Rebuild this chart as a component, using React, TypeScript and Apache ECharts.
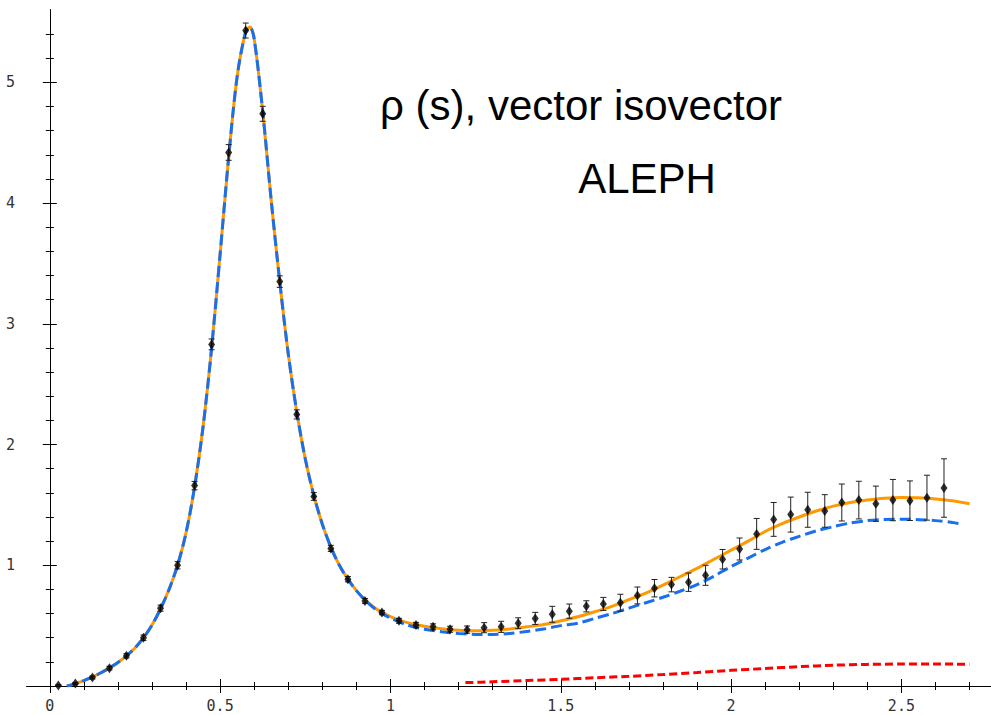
import React, { useEffect, useRef } from "react";
import * as echarts from "echarts";

// ---- data ----
const pointS = [
  0.025, 0.075, 0.125, 0.175, 0.225, 0.275, 0.325, 0.375, 0.425, 0.475,
  0.525, 0.575, 0.625, 0.675, 0.725, 0.775, 0.825, 0.875, 0.925, 0.975,
  1.025, 1.075, 1.125, 1.175, 1.225, 1.275, 1.325, 1.375, 1.425, 1.475,
  1.525, 1.575, 1.625, 1.675, 1.725, 1.775, 1.825, 1.875, 1.925, 1.975,
  2.025, 2.075, 2.125, 2.175, 2.225, 2.275, 2.325, 2.375, 2.425, 2.475,
  2.525, 2.575, 2.625,
];
const pointRho = [
  0.005, 0.02, 0.07, 0.148, 0.25, 0.4, 0.645, 1.0, 1.66, 2.83,
  4.42, 5.43, 4.74, 3.35, 2.25, 1.57, 1.14, 0.885, 0.705, 0.608,
  0.54, 0.505, 0.49, 0.47, 0.467, 0.483, 0.49, 0.52, 0.56, 0.594,
  0.62, 0.66, 0.68, 0.69, 0.75, 0.81, 0.84, 0.86, 0.917, 1.05,
  1.135, 1.26, 1.38, 1.42, 1.46, 1.45, 1.52, 1.54, 1.51, 1.54,
  1.535, 1.56, 1.64,
];
const pointErr = [
  0.005, 0.01, 0.012, 0.015, 0.018, 0.022, 0.025, 0.03, 0.035, 0.045,
  0.065, 0.062, 0.062, 0.048, 0.038, 0.032, 0.025, 0.022, 0.02, 0.018,
  0.02, 0.022, 0.025, 0.025, 0.03, 0.042, 0.046, 0.045, 0.05, 0.066,
  0.059, 0.046, 0.054, 0.07, 0.07, 0.072, 0.06, 0.076, 0.083, 0.081,
  0.091, 0.128, 0.14, 0.145, 0.145, 0.135, 0.153, 0.156, 0.146, 0.171,
  0.164, 0.186, 0.242,
];

const orangeS = [
  0.05, 0.075, 0.1, 0.125, 0.15, 0.175, 0.2, 0.225, 0.25, 0.275,
  0.3, 0.325, 0.35, 0.375, 0.4, 0.425, 0.45, 0.475, 0.5, 0.525,
  0.55, 0.575, 0.5875, 0.6, 0.625, 0.65, 0.675, 0.7, 0.725, 0.75,
  0.775, 0.8, 0.825, 0.85, 0.875, 0.9, 0.925, 0.95, 0.975, 1.0,
  1.05, 1.1, 1.15, 1.2, 1.25, 1.3, 1.35, 1.4, 1.45, 1.5,
  1.55, 1.6, 1.65, 1.7, 1.75, 1.8, 1.85, 1.9, 1.95, 2.0,
  2.05, 2.1, 2.15, 2.2, 2.25, 2.3, 2.35, 2.4, 2.45, 2.5,
  2.55, 2.6, 2.65, 2.7,
];
const orangeRho = [
  0.0, 0.02, 0.045, 0.075, 0.11, 0.15, 0.195, 0.25, 0.315, 0.4,
  0.505, 0.64, 0.8, 1.0, 1.27, 1.65, 2.15, 2.8, 3.58, 4.38,
  5.05, 5.42, 5.46, 5.36, 4.76, 4.02, 3.35, 2.75, 2.27, 1.88,
  1.58, 1.34, 1.15, 1.0, 0.885, 0.79, 0.715, 0.655, 0.61, 0.575,
  0.525, 0.495, 0.475, 0.462, 0.457, 0.462, 0.472, 0.49, 0.51, 0.54,
  0.574, 0.615, 0.66, 0.715, 0.77, 0.835, 0.905, 0.975, 1.05, 1.125,
  1.2, 1.28, 1.345, 1.4, 1.45, 1.49, 1.52, 1.54, 1.555, 1.562,
  1.56, 1.55, 1.535, 1.51,
];

const blueS = [
  0.05, 0.075, 0.1, 0.125, 0.15, 0.175, 0.2, 0.225, 0.25, 0.275,
  0.3, 0.325, 0.35, 0.375, 0.4, 0.425, 0.45, 0.475, 0.5, 0.525,
  0.55, 0.575, 0.5875, 0.6, 0.625, 0.65, 0.675, 0.7, 0.725, 0.75,
  0.775, 0.8, 0.825, 0.85, 0.875, 0.9, 0.925, 0.95, 0.975, 1.0,
  1.05, 1.1, 1.15, 1.2, 1.25, 1.3, 1.35, 1.4, 1.45, 1.5,
  1.55, 1.6, 1.65, 1.7, 1.75, 1.8, 1.85, 1.9, 1.95, 2.0,
  2.05, 2.1, 2.15, 2.2, 2.25, 2.3, 2.35, 2.4, 2.45, 2.5,
  2.55, 2.6, 2.65, 2.68,
];
const blueRho = [
  0.0, 0.02, 0.045, 0.075, 0.11, 0.15, 0.195, 0.25, 0.315, 0.4,
  0.505, 0.64, 0.8, 1.0, 1.27, 1.65, 2.15, 2.8, 3.58, 4.38,
  5.05, 5.42, 5.46, 5.36, 4.76, 4.02, 3.35, 2.75, 2.27, 1.88,
  1.58, 1.34, 1.15, 1.0, 0.885, 0.79, 0.712, 0.65, 0.6, 0.563,
  0.505, 0.47, 0.45, 0.435, 0.427, 0.427, 0.435, 0.452, 0.472, 0.5,
  0.52, 0.56, 0.6, 0.645, 0.69, 0.735, 0.785, 0.84, 0.91, 0.99,
  1.06, 1.13, 1.19, 1.24, 1.285, 1.32, 1.35, 1.37, 1.38, 1.382,
  1.378, 1.37, 1.355, 1.34,
];

const redS = [1.22, 1.3, 1.4, 1.5, 1.6, 1.7, 1.8, 1.9, 2.0, 2.1, 2.2, 2.3, 2.4, 2.5, 2.6, 2.7];
const redRho = [0.028, 0.035, 0.045, 0.055, 0.068, 0.08, 0.095, 0.112, 0.13, 0.145, 0.16, 0.172, 0.179, 0.182, 0.182, 0.18];

const xMajorTicks = [0, 0.5, 1, 1.5, 2, 2.5];
const xMinorTicks = [
  0.1, 0.2, 0.3, 0.4, 0.6, 0.7, 0.8, 0.9, 1.1, 1.2, 1.3, 1.4, 1.6, 1.7, 1.8, 1.9,
  2.1, 2.2, 2.3, 2.4, 2.6, 2.7,
];
const yMajorTicks = [1, 2, 3, 4, 5];
const yMinorTicks = [
  0.2, 0.4, 0.6, 0.8, 1.2, 1.4, 1.6, 1.8, 2.2, 2.4, 2.6, 2.8, 3.2, 3.4, 3.6, 3.8,
  4.2, 4.4, 4.6, 4.8, 5.2, 5.4,
];

const titleLine1 = "ρ (s), vector isovector";
const titleLine2 = "ALEPH";

const X_MIN = -0.067;
const X_MAX = 2.763;
const Y_MIN = 0;
const Y_MAX = 5.6;

export default function App() {
  const ref = useRef<HTMLDivElement>(null);

  useEffect(() => {
    if (!ref.current) return;
    const chart = echarts.init(ref.current, null, { renderer: "svg" });

    const axisLine = { show: true, lineStyle: { color: "#000", width: 1 } };
    const mkX = (position: string, major: boolean, labels: boolean) => ({
      type: "value",
      position,
      min: X_MIN,
      max: X_MAX,
      axisLine,
      splitLine: { show: false },
      axisTick: {
        show: true,
        inside: true,
        length: major ? 7 : 4,
        lineStyle: { color: "#000", width: 1 },
        customValues: major ? xMajorTicks : xMinorTicks,
      },
      axisLabel: labels
        ? {
            show: true,
            customValues: xMajorTicks,
            fontFamily: "DejaVu Sans Mono",
            fontSize: 15,
            color: "#333",
            margin: 12,
          }
        : { show: false },
    });
    const mkY = (position: string, major: boolean, labels: boolean) => ({
      type: "value",
      position,
      min: Y_MIN,
      max: Y_MAX,
      axisLine,
      splitLine: { show: false },
      axisTick: {
        show: true,
        inside: true,
        length: major ? 7 : 4,
        lineStyle: { color: "#000", width: 1 },
        customValues: major ? yMajorTicks : yMinorTicks,
      },
      axisLabel: labels
        ? {
            show: true,
            customValues: yMajorTicks,
            fontFamily: "DejaVu Sans Mono",
            fontSize: 15,
            color: "#333",
            margin: 12,
          }
        : { show: false },
    });

    const pts = pointS.map((s, i) => [s, pointRho[i]]);
    const bars = pointS.map((s, i) => [s, pointRho[i] - pointErr[i], pointRho[i] + pointErr[i]]);

    chart.setOption({
      animation: false,
      backgroundColor: "#fff",
      grid: { left: 27, right: -4, top: 10, bottom: 29, containLabel: false },
      xAxis: [
        mkX("bottom", true, true),
        mkX("bottom", false, false),
        mkX("top", true, false),
        mkX("top", false, false),
      ],
      yAxis: [
        mkY("left", true, true),
        mkY("left", false, false),
        mkY("right", true, false),
        mkY("right", false, false),
      ],
      graphic: [
        {
          type: "text",
          x: 581,
          y: 105,
          style: {
            text: titleLine1,
            fontFamily: "Liberation Sans",
            fontSize: 42,
            fill: "#000",
            align: "center",
            verticalAlign: "middle",
          },
          z: 100,
        },
        {
          type: "text",
          x: 647,
          y: 178,
          style: {
            text: titleLine2,
            fontFamily: "Liberation Sans",
            fontSize: 42,
            fill: "#000",
            align: "center",
            verticalAlign: "middle",
          },
          z: 100,
        },
      ],
      series: [
        {
          type: "line",
          name: "red",
          data: redS.map((s, i) => [s, redRho[i]]),
          smooth: 0.3,
          showSymbol: false,
          lineStyle: { color: "#ff0000", width: 3, type: [8, 4] },
          z: 2,
        },
        {
          type: "line",
          name: "orange",
          data: orangeS.map((s, i) => [s, orangeRho[i]]),
          smooth: 0.3,
          showSymbol: false,
          lineStyle: { color: "#ff9900", width: 3 },
          z: 3,
        },
        {
          type: "line",
          name: "blue",
          data: blueS.map((s, i) => [s, blueRho[i]]),
          smooth: 0.3,
          showSymbol: false,
          lineStyle: { color: "#1a6fec", width: 3, type: [11, 5] },
          z: 4,
        },
        {
          type: "custom",
          name: "errors",
          data: bars,
          encode: { x: 0, y: [1, 2] },
          renderItem: (params: any, api: any) => {
            const x = api.value(0);
            const lo = api.coord([x, api.value(1)]);
            const hi = api.coord([x, api.value(2)]);
            const hw = 3;
            const st = { stroke: "#222", lineWidth: 1 };
            return {
              type: "group",
              children: [
                { type: "line", shape: { x1: lo[0], y1: lo[1], x2: hi[0], y2: hi[1] }, style: st },
                { type: "line", shape: { x1: lo[0] - hw, y1: lo[1], x2: lo[0] + hw, y2: lo[1] }, style: st },
                { type: "line", shape: { x1: hi[0] - hw, y1: hi[1], x2: hi[0] + hw, y2: hi[1] }, style: st },
              ],
            };
          },
          z: 5,
        },
        {
          type: "scatter",
          name: "ALEPH",
          data: pts,
          symbol: "diamond",
          symbolSize: [7, 10],
          itemStyle: { color: "#000" },
          z: 6,
        },
      ],
    });

    return () => chart.dispose();
  }, []);

  return (
    <div
      ref={ref}
      style={{ position: "fixed", left: 0, top: 0, width: 991, height: 715, background: "#fff" }}
    />
  );
}
